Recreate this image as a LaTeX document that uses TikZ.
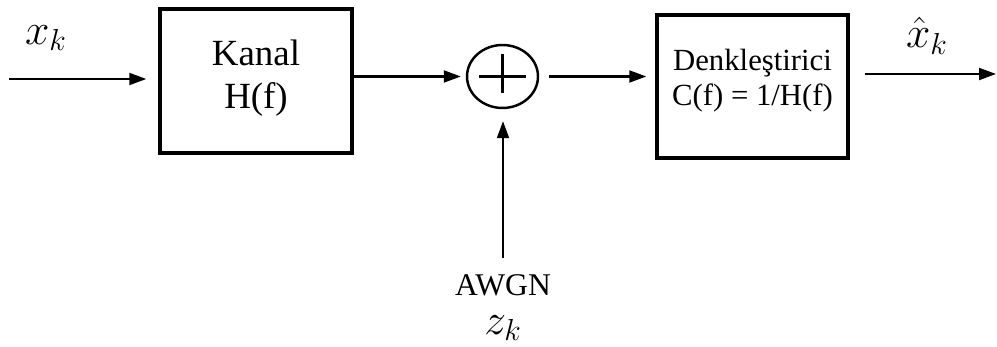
\documentclass[tikz,border=0pt]{standalone}
\usepackage{fontspec}
\setmainfont{Liberation Serif}
\usetikzlibrary{arrows.meta,positioning,calc,shapes.geometric}
\tikzset{
  block/.style={draw,line width=2pt,minimum width=3.84cm,minimum height=2.88cm,align=center,inner sep=0pt},
  sumnode/.style={ellipse,draw,line width=1.4pt,minimum width=1.42cm,minimum height=1.26cm,inner sep=0pt},
  arr/.style={-{Triangle[length=3.4mm,width=2.4mm]},line width=1.15pt},
  siglabel/.style={font=\fontsize{24}{28}\selectfont},
  noiselabel/.style={font=\fontsize{18}{21}\selectfont}
}

\begin{document}
\begin{tikzpicture}[x=0.02cm,y=-0.02cm]
  \useasboundingbox (0,0) rectangle (997,347);

  % blocks
  \node[block,font=\fontsize{21}{24.5}\selectfont,text depth=8pt] (kanal) at (256,81) {Kanal\\H(f)};
  \node[block,minimum width=3.82cm,minimum height=2.86cm,font=\fontsize{17.5}{20}\selectfont,text depth=10.5pt] (eq) at (752.5,86.5) {Denkleştirici\\C(f) = 1/H(f)};
  \node[sumnode] (sum) at (502.5,76.5) {};
  \draw[line width=1.4pt] ($(sum.center)+(-23.5,0)$) -- ($(sum.center)+(23.5,0)$);
  \draw[line width=1.4pt] ($(sum.center)+(0,-22.5)$) -- ($(sum.center)+(0,16.5)$);

  % signals
  \coordinate (xin) at (9,79);
  \coordinate (xout) at (996,74);
  \coordinate (nz) at (503,258);

  \draw[arr,shorten >=0.24cm] (xin) -- (xin -| kanal.west);
  \draw[arr,shorten >=0.1cm] (kanal.east |- sum.west) -- (sum.west);
  \draw[arr,shorten <=0.2cm,shorten >=0.18cm] (sum.east) -- (sum.east -| eq.west);
  \draw[arr,shorten <=0.3cm] (eq.east |- xout) -- (xout);
  \draw[arr,shorten >=0.24cm] (nz) -- (nz |- sum.south);

  % labels
  \node[siglabel] (xklab) at (46,38) {$x_k$};
  \node[siglabel] (xhatlab) at (927,36) {$\hat{x}_k$};
  \node[noiselabel] (awgn) at (503,285) {AWGN};
  \node[siglabel] (zklab) at (503,328) {$z_k$};
\end{tikzpicture}
\end{document}
